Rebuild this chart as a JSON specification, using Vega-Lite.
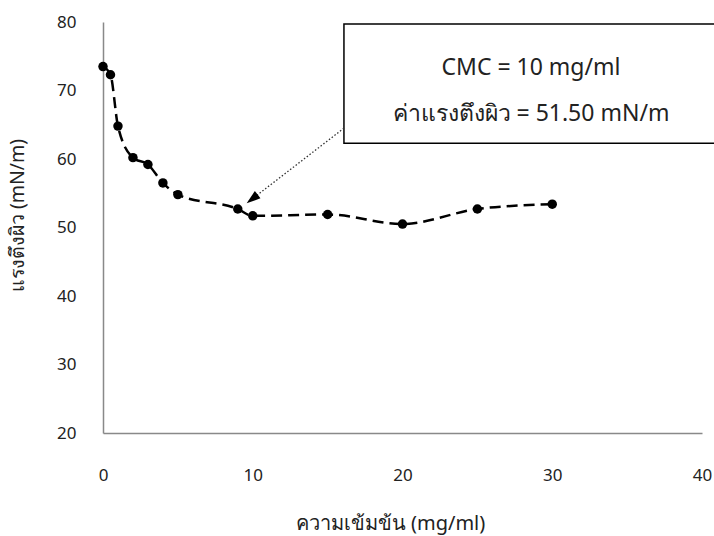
{
  "$schema": "https://vega.github.io/schema/vega-lite/v6.json",
  "width": 599,
  "height": 411,
  "autosize": {"type": "none"},
  "padding": {"left": 103, "top": 22, "right": 12, "bottom": 103},
  "background": "white",
  "config": {
    "view": {"stroke": null},
    "font": "Noto Sans",
    "axis": {
      "grid": false,
      "ticks": false,
      "domainColor": "#898989",
      "domainWidth": 1.5,
      "labelFont": "Noto Sans",
      "labelFontSize": 17,
      "labelColor": "#222222",
      "labelFlush": false,
      "labelOverlap": false,
      "titleFont": "Noto Sans",
      "titleFontSize": 20,
      "titleFontWeight": "normal",
      "titleColor": "#222222"
    }
  },
  "datasets": {
    "pts": [
      {"conc": 0, "st": 73.5},
      {"conc": 0.5, "st": 72.3},
      {"conc": 1, "st": 64.8},
      {"conc": 2, "st": 60.2},
      {"conc": 3, "st": 59.2},
      {"conc": 4, "st": 56.5},
      {"conc": 5, "st": 54.8},
      {"conc": 9, "st": 52.7},
      {"conc": 10, "st": 51.7},
      {"conc": 15, "st": 51.9},
      {"conc": 20, "st": 50.5},
      {"conc": 25, "st": 52.7},
      {"conc": 30, "st": 53.4}
    ],
    "box": [{"x1": 16.09, "x2": 42, "y1": 62.3, "y2": 79.7}],
    "arrow": [
      {"ax": 16.09, "ay": 64.5, "ord": 0},
      {"ax": 10.1, "ay": 54.4, "ord": 1}
    ],
    "head": [{"hx": 9.96, "hy": 54.16}],
    "notes": [
      {"tx": 28.58, "ty": 73.3, "label": "CMC = 10 mg/ml"},
      {"tx": 28.58, "ty": 66.6, "label": "ค่าแรงตึงผิว = 51.50 mN/m"}
    ]
  },
  "layer": [
    {
      "data": {"name": "pts"},
      "mark": {"type": "line", "interpolate": "monotone", "color": "black", "strokeWidth": 2.5, "strokeDash": [11, 6]},
      "encoding": {
        "x": {
          "field": "conc", "type": "quantitative",
          "scale": {"domain": [0, 40], "nice": false},
          "axis": {"values": [0, 10, 20, 30, 40], "labelPadding": 34, "title": "ความเข้มข้น (mg/ml)", "titleX": 287, "titleY": 90, "titleBaseline": "middle"}
        },
        "y": {
          "field": "st", "type": "quantitative",
          "scale": {"domain": [20, 80], "nice": false, "zero": false},
          "axis": {"values": [20, 30, 40, 50, 60, 70, 80], "labelPadding": 27, "title": "แรงตึงผิว (mN/m)", "titleFontSize": 19.5, "titleX": -86, "titleY": 193, "titleBaseline": "middle"}
        }
      }
    },
    {
      "data": {"name": "pts"},
      "mark": {"type": "point", "filled": true, "color": "black", "size": 90, "opacity": 1},
      "encoding": {
        "x": {"field": "conc", "type": "quantitative"},
        "y": {"field": "st", "type": "quantitative"}
      }
    },
    {
      "data": {"name": "box"},
      "mark": {"type": "rect", "fill": "white", "stroke": "black", "strokeWidth": 1.5, "clip": false},
      "encoding": {
        "x": {"field": "x1", "type": "quantitative"},
        "x2": {"field": "x2"},
        "y": {"field": "y1", "type": "quantitative"},
        "y2": {"field": "y2"}
      }
    },
    {
      "data": {"name": "arrow"},
      "mark": {"type": "line", "color": "#333333", "strokeWidth": 1.3, "strokeDash": [1.5, 2]},
      "encoding": {
        "x": {"field": "ax", "type": "quantitative"},
        "y": {"field": "ay", "type": "quantitative"},
        "order": {"field": "ord"}
      }
    },
    {
      "data": {"name": "head"},
      "mark": {"type": "point", "shape": "M0,-1L0.65,1L-0.65,1Z", "filled": true, "color": "black", "size": 196, "angle": 232, "opacity": 1},
      "encoding": {
        "x": {"field": "hx", "type": "quantitative"},
        "y": {"field": "hy", "type": "quantitative"}
      }
    },
    {
      "data": {"name": "notes"},
      "mark": {"type": "text", "fontSize": 23, "color": "#222222", "align": "center", "baseline": "middle"},
      "encoding": {
        "x": {"field": "tx", "type": "quantitative"},
        "y": {"field": "ty", "type": "quantitative"},
        "text": {"field": "label"}
      }
    }
  ]
}
